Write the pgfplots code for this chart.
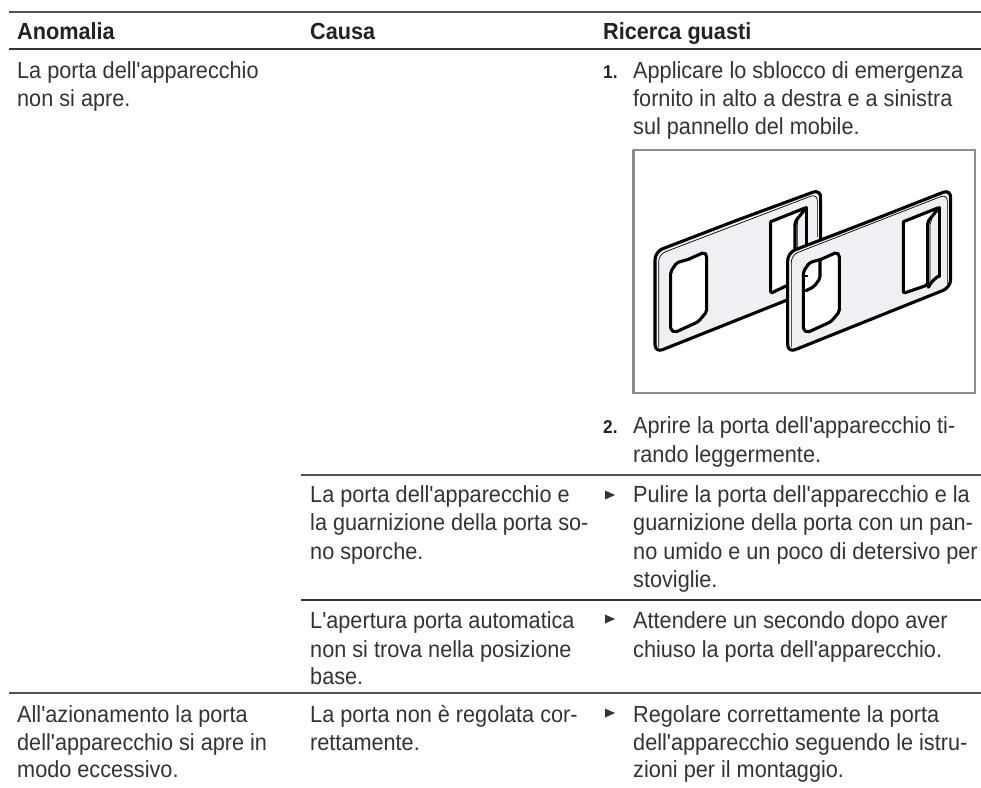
\documentclass[border=0pt]{standalone}
\usepackage{pgfplots}
\pgfplotsset{compat=1.18}
\usepackage{fontspec}
\newfontfamily\tf[FakeStretch=0.93]{Liberation Sans}
\definecolor{ink}{HTML}{333333}
\definecolor{inkb}{HTML}{222222}
\definecolor{rule}{HTML}{333333}
\definecolor{frame}{HTML}{8C8C8C}
\definecolor{plate}{HTML}{EEF0F4}
\newcommand{\T}[3]{\node[anchor=base west,inner sep=0pt,text=ink,font=\tf\fontsize{23.3}{28}\selectfont] at (axis cs:#1,#2) {#3};}
\newcommand{\B}[3]{\node[anchor=base west,inner sep=0pt,text=inkb,font=\tf\bfseries\fontsize{23.3}{28}\selectfont] at (axis cs:#1,#2) {#3};}
\newcommand{\N}[3]{\node[anchor=base west,inner sep=0pt,text=inkb,font=\tf\bfseries\fontsize{18.5}{22}\selectfont] at (axis cs:#1,#2) {#3};}
\pgfplotsset{
  page/.style={scale only axis,width=981pt,height=787pt,axis lines=none,y dir=reverse,clip=false,
    anchor=north west,at={(0pt,0pt)}},
  pl/.style={no marks,forget plot,line cap=round,line join=round},
  thick line/.style={pl,black,line width=3.1pt,rounded corners=2pt},
  thin line/.style={pl,black,line width=0.7pt,rounded corners=7pt}
}
\begin{document}
\begin{tikzpicture}
\path[use as bounding box] (0pt,0pt) rectangle (981pt,-787pt);
\begin{axis}[page,xmin=0,xmax=981,ymin=0,ymax=787]
% rules
\addplot[pl,color=rule!85,line width=2pt,line cap=butt] coordinates {(9,11.5) (981,11.5)};
\addplot[pl,color=rule,line width=2.2pt,line cap=butt] coordinates {(9,49) (981,49)};
\addplot[pl,color=rule!85,line width=2pt,line cap=butt] coordinates {(301,474.5) (981,474.5)};
\addplot[pl,color=rule,line width=2.2pt,line cap=butt] coordinates {(301,600) (981,600)};
\addplot[pl,color=rule!85,line width=2pt,line cap=butt] coordinates {(9,693) (981,693)};
% frame
\addplot[pl,color=frame,line width=2.6pt,line join=miter] coordinates {(633.5,150) (975,150) (975,393) (633.5,393) (633.5,150)};
% bullets
\addplot[pl,fill=ink,draw=none] coordinates {(605,490.5) (615,495) (605,499.5) (605,490.5)};
\addplot[pl,fill=ink,draw=none] coordinates {(605,614.5) (615,619) (605,623.5) (605,614.5)};
\addplot[pl,fill=ink,draw=none] coordinates {(605,708.5) (615,713) (605,717.5) (605,708.5)};
% header
\B{17}{39.5}{Anomalia}
\B{310}{39.5}{Causa}
\B{603}{39.5}{Ricerca guasti}
% column 1
\T{17}{78}{La porta dell'apparecchio}
\T{17}{106}{non si apre.}
\T{17}{722}{All'azionamento la porta}
\T{17}{750}{dell'apparecchio si apre in}
\T{17}{777}{modo eccessivo.}
% column 2
\T{310}{502}{La porta dell'apparecchio e}
\T{310}{530.5}{la guarnizione della porta so-}
\T{310}{559}{no sporche.}
\T{310}{628}{L'apertura porta automatica}
\T{310}{657}{non si trova nella posizione}
\T{310}{684}{base.}
\T{310}{722}{La porta non è regolata cor-}
\T{310}{750}{rettamente.}
% column 3
\N{603}{78}{1.}
\T{633}{78}{Applicare lo sblocco di emergenza}
\T{633}{106}{fornito in alto a destra e a sinistra}
\T{633}{134}{sul pannello del mobile.}
\N{603}{433}{2.}
\T{633}{433}{Aprire la porta dell'apparecchio ti-}
\T{633}{462}{rando leggermente.}
\T{633}{502}{Pulire la porta dell'apparecchio e la}
\T{633}{530.5}{guarnizione della porta con un pan-}
\T{633}{559}{no umido e un poco di detersivo per}
\T{633}{587}{stoviglie.}
\T{633}{628}{Attendere un secondo dopo aver}
\T{633}{657}{chiuso la porta dell'apparecchio.}
\T{633}{722}{Regolare correttamente la porta}
\T{633}{750}{dell'apparecchio seguendo le istru-}
\T{633}{777}{zioni per il montaggio.}
\end{axis}
% illustration, in the 3x pixel grid of the crop
\begin{axis}[page,xmin=-1830,xmax=1113,ymin=-510,ymax=1851]
% plate 1
\addplot[pl,fill=plate,draw=black,line width=3.1pt,rounded corners=8pt] coordinates {(380,151) (632,58) (632,350) (135,548) (135,245) (380,151)};
\addplot[thin line] coordinates {(146,530) (146,253) (622,71) (622,200)};
\addplot[thick line,fill=white] coordinates {(235,268) (282,247) (290,255) (290,425) (265,455) (195,487) (182,480) (182,305) (200,278) (235,268)};
\addplot[thick line,fill=white] coordinates {(482,155) (590,112) (555,155) (555,335) (482,370) (482,155)};
\addplot[thick line] coordinates {(590,112) (590,250)};
\addplot[pl,black,line width=0.7pt,smooth] coordinates {(590,112) (570,135) (562,165) (562,240)};
% plate 2
\addplot[pl,fill=plate,draw=black,line width=3.1pt,rounded corners=8pt] coordinates {(780,153) (1022,58) (1022,352) (533,548) (533,248) (780,153)};
\addplot[thin line] coordinates {(544,530) (544,255) (1012,72) (1012,340)};
\addplot[thick line,fill=white] coordinates {(633,268) (680,247) (688,255) (688,425) (663,455) (593,487) (580,480) (580,305) (598,278) (633,268)};
\addplot[thick line,fill=white] coordinates {(880,155) (988,112) (953,155) (953,345) (880,370) (880,155)};
\addplot[thick line] coordinates {(988,112) (988,320)};
\addplot[pl,black,line width=0.7pt] coordinates {(988,112) (968,135) (960,165) (960,335)};
\addplot[thick line] coordinates {(955,352) (965,335) (985,318)};
% plate 1 seen through the window of plate 2
\addplot[thick line] coordinates {(630,270) (630,325) (612,350) (588,362)};
\addplot[pl,black,line width=2pt] coordinates {(584,318) (592,318)};
\end{axis}
\end{tikzpicture}
\end{document}
